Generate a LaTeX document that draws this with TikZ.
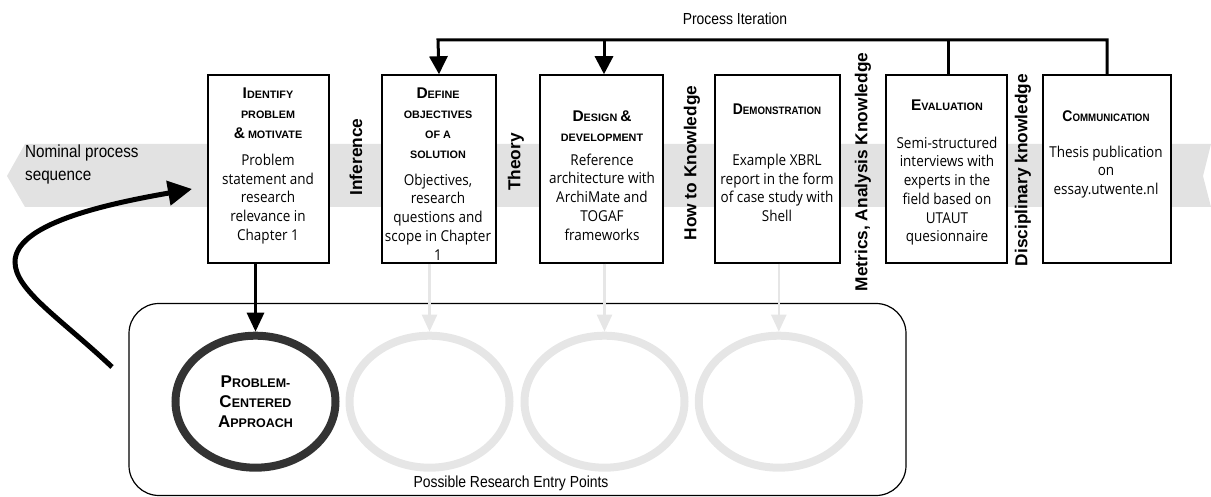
\documentclass[tikz,border=0pt]{standalone}
\usepackage{fontspec}
\usepackage{graphicx}
\setmainfont{Liberation Sans}
\newfontfamily\nsans[FakeStretch=0.87]{Liberation Sans}
\newfontfamily\bodyf[FakeStretch=0.9]{Open Sans}
\usetikzlibrary{arrows.meta,shapes.geometric}
\definecolor{bandgray}{RGB}{226,226,226}
\definecolor{lightgraytwo}{RGB}{230,230,230}
\definecolor{darkcirc}{RGB}{51,51,51}
\newcommand{\Bg}[1]{{\fontsize{15.5}{20}\selectfont #1}}
\newcommand{\Sm}[1]{{\fontsize{10.8}{20}\selectfont #1}}
\newcommand{\CBg}[1]{{\fontsize{17}{20}\selectfont #1}}
\newcommand{\CSm}[1]{{\fontsize{12.5}{20}\selectfont #1}}
\begin{document}
\begin{tikzpicture}[x=1pt,y=-1pt,
  stagebox/.style={draw, line width=1.5pt, fill=white, inner sep=0pt, minimum height=188pt},
  ttl/.style={align=center, inner sep=0pt, font=\bfseries\fontsize{15.5}{20}\selectfont},
  bodytxt/.style={align=center, inner sep=0pt, font=\bodyf\fontsize{15}{18.75}\selectfont},
  vlab/.style={rotate=90, inner sep=0pt, font=\bfseries\fontsize{17.3}{20}\selectfont},
  entrycirc/.style={ellipse, minimum width=160pt, minimum height=132pt, line width=8pt, inner sep=0pt},
  lightarrow/.style={draw=lightgraytwo, line width=2.5pt, -{Triangle[length=17pt,width=15pt]}},
  iter/.style={line width=3pt},
  narrowlab/.style={inner sep=0pt, font=\nsans\fontsize{16}{20}\selectfont},
]
\useasboundingbox (0,0) rectangle (1211,497);

% nominal process band
\fill[bandgray] (1211,144) -- (25,144) -- (7,176) -- (25,207) -- (1211,207) -- (1203,176) -- cycle;
\node[narrowlab, font=\nsans\fontsize{17.5}{23}\selectfont, align=left, anchor=west] (nominal) at (25,164.5) {Nominal process\\sequence};

% stage boxes
\node[stagebox, minimum width=121pt] (b1) at (268.5,169) {};
\node[stagebox, minimum width=114pt] (b2) at (439,169) {};
\node[stagebox, minimum width=123pt] (b3) at (601.5,169) {};
\node[stagebox, minimum width=125pt] (b4) at (777.5,169) {};
\node[stagebox, minimum width=121pt] (b5) at (946.5,169) {};
\node[stagebox, minimum width=128pt] (b6) at (1107,169) {};

% titles
\node[ttl] (t1) at (268,113) {\Bg{I}\Sm{DENTIFY}\\\Sm{PROBLEM}\\\Bg{\&}\Sm{ MOTIVATE}};
\node[ttl] (t2) at (438,123) {\Bg{D}\Sm{EFINE}\\\Sm{OBJECTIVES}\\\Sm{OF A}\\\Sm{SOLUTION}};
\node[ttl] (t3) at (602,126) {\Bg{D}\Sm{ESIGN }\Bg{\&}\\\Sm{DEVELOPMENT}};
\node[ttl] (t4) at (777,109) {\scalebox{0.9}[1]{\Bg{D}\Sm{EMONSTRATION}}};
\node[ttl] (t5) at (947,105) {\Bg{E}\Sm{VALUATION}};
\node[ttl] (t6) at (1106,116) {\scalebox{0.9}[1]{\Bg{C}\Sm{OMMUNICATION}}};

% body texts
\node[bodytxt] (d1) at (268,199) {Problem\\statement and\\research\\relevance in\\Chapter 1};
\node[bodytxt] (d2) at (438,217) {Objectives,\\research\\questions and\\scope in Chapter\\1};
\node[bodytxt] (d3) at (602,197) {Reference\\architecture with\\ArchiMate and\\TOGAF\\frameworks};
\node[bodytxt] (d4) at (777,188) {Example XBRL\\report in the form\\of case study with\\Shell};
\node[bodytxt] (d5) at (947,191) {Semi-structured\\interviews with\\experts in the\\field based on\\UTAUT\\quesionnaire};
\node[bodytxt] (d6) at (1106,172) {Thesis publication\\on\\essay.utwente.nl};

% vertical knowledge labels
\node[vlab] (k1) at (356,157) {Inference};
\node[vlab] (k2) at (516,162) {Theory};
\node[vlab] (k3) at (692,163) {How to Knowledge};
\node[vlab] (k4) at (863,172) {Metrics, Analysis Knowledge};
\node[vlab] (k5) at (1023,170) {Disciplinary knowledge};

% process iteration
\node[narrowlab] (iterlab) at (735,19) {Process Iteration};
\coordinate (it2) at (438,40);
\coordinate (it3) at (604,40);
\coordinate (it5) at (948.5,40);
\coordinate (it6) at (1107,40);
\draw[iter, -{Triangle[length=18pt,width=18pt]}] (b6.north) -- (it6) -- (it2) -- (b2.north);
\draw[iter, -{Triangle[length=18pt,width=18pt]}] (it3) -- (it3 |- b3.north);
\draw[iter] (it5 |- b5.north) -- (it5);

% entry points container
\node[draw, line width=1.2pt, rounded corners=30pt, minimum width=777pt, minimum height=192pt, inner sep=0pt] (entry) at (517.5,399.5) {};
\node[narrowlab] (entrylab) at (511,483) {Possible Research Entry Points};

% entry circles
\node[entrycirc, draw=darkcirc, align=center, font=\bfseries\fontsize{17}{20}\selectfont] (c1) at (255.5,401.7) {\CBg{P}\CSm{ROBLEM-}\\\CBg{C}\CSm{ENTERED}\\\CBg{A}\CSm{PPROACH}};
\node[entrycirc, draw=lightgraytwo] (c2) at (429.5,401.7) {};
\node[entrycirc, draw=lightgraytwo] (c3) at (604.5,401.7) {};
\node[entrycirc, draw=lightgraytwo] (c4) at (778.8,401.7) {};

% connectors to circles
\draw[line width=3pt, -{Triangle[length=19pt,width=17pt]}] (c1.north |- b1.south) -- (c1.north);
\draw[lightarrow] (c2.north |- b2.south) -- (c2.north);
\draw[lightarrow] (c3.north |- b3.south) -- (c3.north);
\draw[lightarrow] (c4.north |- b4.south) -- (c4.north);

% curved entry arrow
\coordinate (cs) at (112,367);
\coordinate (cm) at (15,262);
\coordinate (ce) at (192,189);
\draw[line width=5pt, -{Triangle[length=24pt,width=24pt]}] (cs) .. controls (60,318) and (15,290) .. (cm) .. controls (15,225) and (100,205) .. (ce);
\end{tikzpicture}
\end{document}
